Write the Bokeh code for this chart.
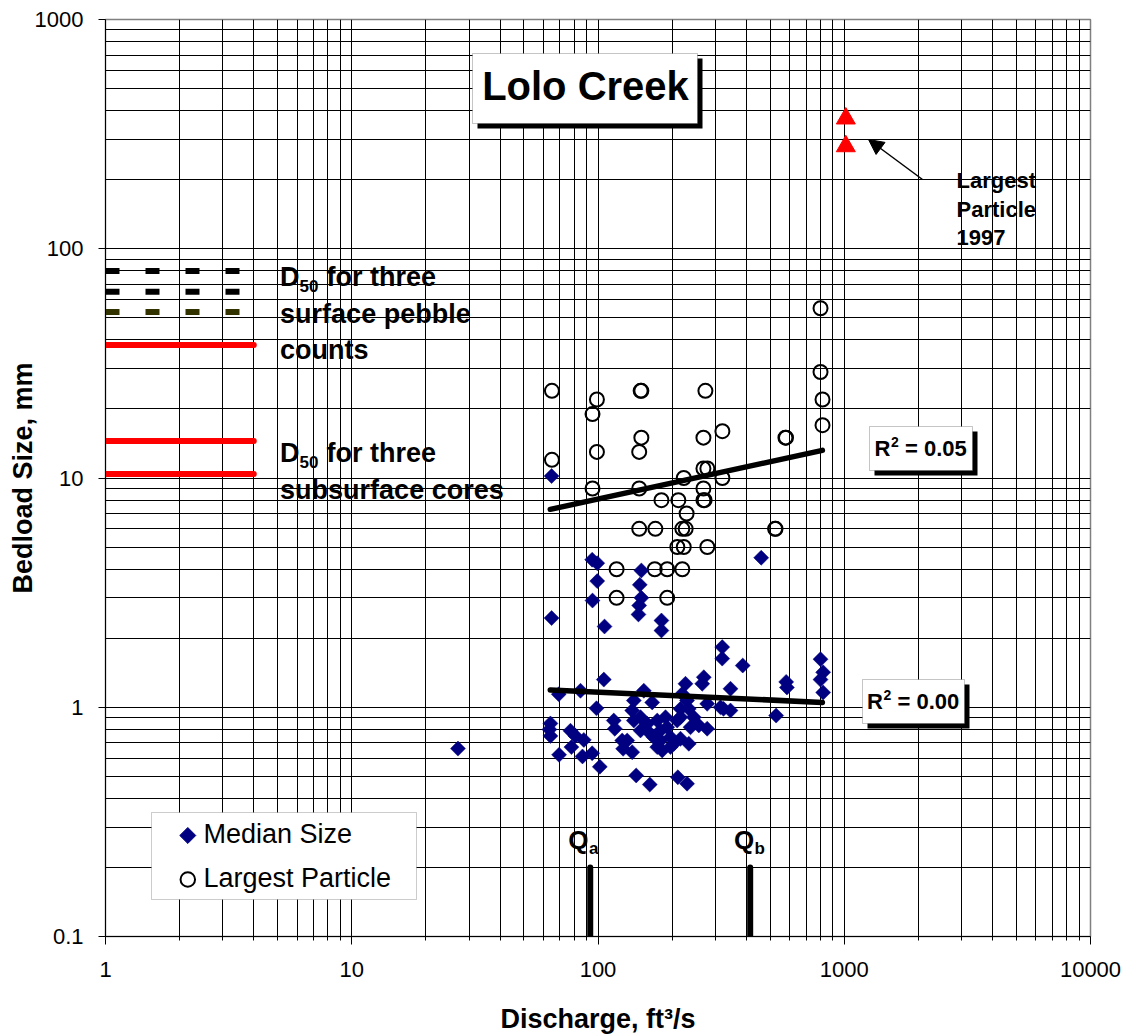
import math
from bokeh.plotting import figure
from bokeh.models import (FixedTicker, Label, BoxAnnotation, Arrow, NormalHead,
                          CustomJSTickFormatter)
from bokeh.embed import file_html
from bokeh.resources import INLINE

# ---------------- data ----------------
# Median bedload size (mm) vs discharge (ft3/s)
median_q = [64.8, 64.8, 94.7, 99.3, 99.3, 95.0, 106.3, 150, 147.8, 150, 147, 146, 181, 181,
            460, 319.5, 319.5, 387, 801, 821, 801, 821, 581, 585, 529, 105.6, 69.3, 84.9,
            98.6, 64.1, 63.5, 64.1, 69.5, 77.3, 81, 78, 87.6, 86.5, 94.7, 101.7, 27,
            115.9, 117, 125.4, 126.5, 137.7, 139.8, 137.7, 153.5, 166, 139.8, 148.8, 158.4,
            174, 168.5, 179.4, 191, 197, 182.3, 203.2, 216.3, 216.3, 226.6, 230, 209.7,
            233.8, 244.9, 268.9, 265, 277.6, 256.7, 237.5, 216.3, 233.8, 277.6, 314.4,
            345.2, 345.2, 323.3, 142.9, 162.3, 211, 230, 163.4, 179.4, 174, 197, 188,
            148.8, 131.4, 219.8]
median_d = [10.2, 2.45, 4.40, 4.25, 3.55, 2.92, 2.25, 3.95, 3.42, 3.0, 2.78, 2.54, 2.39, 2.16,
            4.49, 1.83, 1.63, 1.52, 1.62, 1.42, 1.32, 1.16, 1.29, 1.22, 0.92, 1.32, 1.14, 1.18,
            0.99, 0.85, 0.80, 0.75, 0.62, 0.79, 0.75, 0.67, 0.72, 0.61, 0.63, 0.55, 0.66,
            0.875, 0.806, 0.716, 0.659, 0.637, 1.07, 0.968, 1.18, 1.05, 0.875, 0.792, 0.847,
            0.875, 0.74, 0.792, 0.818, 0.74, 0.648, 0.693, 0.905, 0.984, 1.266, 1.07, 0.875,
            0.984, 0.905, 1.352, 1.266, 1.035, 0.833, 0.818, 0.729, 0.693, 0.806, 1.0,
            0.968, 1.204, 0.984, 0.504, 0.46, 0.495, 0.464, 0.766, 0.716, 0.67, 0.67, 0.905,
            0.905, 0.716, 1.144]

# Largest particle (mm) vs discharge (ft3/s)
largest_q = [65, 65, 99, 95, 99, 95, 149, 150, 150, 147, 147, 147, 181, 171, 119, 119, 170,
             191, 191, 223, 212, 229, 220, 227, 210, 223, 220, 273, 268, 320, 268, 278, 320,
             268, 271, 268, 278, 577, 580, 526, 524, 801, 801, 816, 816]
largest_d = [24, 12, 22, 19, 13, 9, 24, 24, 15, 13, 9, 6, 8, 6, 4, 3, 4,
             4, 3, 10, 8, 7, 6, 6, 5, 5, 4, 24, 15, 16, 11, 11, 10,
             9, 8, 8, 5, 15, 15, 6, 6, 55, 29, 22, 17]

# Largest particle 1997
largest_1997_q = [1015, 1015]
largest_1997_d = [370, 280]

# Power-law trend lines (end points)
trend_q = [64, 815]
trend_largest_d = [7.3, 13.2]
trend_median_d = [1.19, 1.05]

# D50 reference lines
pebble_count_d50 = [80, 65, 53]
pebble_colors = ["black", "black", "#333300"]
core_d50 = [38, 14.5, 10.4]
d50_q_span = [1, 4]

# Qa / Qb discharge markers
q_marks = [93, 415]
q_bar_d = [0.1, 0.2]

x_ticks = [1, 10, 100, 1000, 10000]
y_ticks = [0.1, 1, 10, 100, 1000]
x_minor = [m * 10 ** e for e in range(0, 4) for m in range(2, 10)]
y_minor = [m * 10.0 ** e for e in range(-1, 3) for m in range(2, 10)]

# ---------------- layout ----------------
W, H = 1125, 1036
FL, FT, FW, FH = 105, 19, 985, 917   # frame inside canvas (px)
XMIN, XMAX, YMIN, YMAX = 1, 10000, 0.1, 1000
XDEC = math.log10(XMAX / XMIN)
YDEC = math.log10(YMAX / YMIN)


def dx(px):
    """canvas pixel x -> data x (for placing annotations)"""
    return 10 ** (math.log10(XMIN) + (px - FL) / FW * XDEC)


def dy(py):
    """canvas pixel y -> data y (for placing annotations)"""
    return 10 ** (math.log10(YMIN) + (FT + FH - py) / FH * YDEC)


FONT = "Liberation Sans"

p = figure(width=W, height=H, x_axis_type="log", y_axis_type="log",
           x_range=(XMIN, XMAX), y_range=(YMIN, YMAX), title=None,
           output_backend="svg", toolbar_location=None,
           min_border_left=FL, min_border_top=FT,
           min_border_right=W - FL - FW, min_border_bottom=H - FT - FH)
p.background_fill_color = "white"
p.border_fill_color = "white"
p.outline_line_color = "#808080"
p.outline_line_width = 1.5

xt = FixedTicker(ticks=x_ticks, minor_ticks=x_minor)
yt = FixedTicker(ticks=y_ticks, minor_ticks=y_minor)
p.xaxis.ticker = xt
p.yaxis.ticker = yt
p.xgrid.ticker = xt
p.ygrid.ticker = yt
p.xaxis.formatter = CustomJSTickFormatter(code="return tick.toString()")
p.yaxis.formatter = CustomJSTickFormatter(code="return tick.toString()")

for g in (p.xgrid[0], p.ygrid[0]):
    g.grid_line_color = "black"
    g.grid_line_width = 1
    g.minor_grid_line_color = "black"
    g.minor_grid_line_width = 1

for ax in (p.xaxis[0], p.yaxis[0]):
    ax.axis_line_color = "black"
    ax.axis_line_width = 1
    ax.major_tick_line_color = "black"
    ax.minor_tick_line_color = "black"
    ax.major_tick_in = 0
    ax.minor_tick_in = 0
    ax.major_label_text_font = FONT
    ax.major_label_text_font_size = "22px"
    ax.major_label_text_color = "black"
    ax.major_label_standoff = 15
    ax.axis_label_text_font = FONT
    ax.axis_label_text_font_style = "bold"
    ax.axis_label_text_font_size = "27px"
    ax.axis_label_text_color = "black"

p.xaxis.major_tick_out = 8
p.xaxis.minor_tick_out = 4
p.xaxis.major_label_standoff = 17
p.xaxis.axis_label = "Discharge, ft\u00b3/s"
p.xaxis.axis_label_standoff = 24
p.yaxis.major_tick_out = 7
p.yaxis.minor_tick_out = 0
p.yaxis.axis_label = "Bedload Size, mm"
try:
    p.yaxis[0].axis_label_standoff = -6
except Exception:
    p.yaxis[0].axis_label_standoff = 0

# ---------------- data glyphs ----------------
p.multi_line(xs=[d50_q_span] * len(pebble_count_d50), ys=[[v, v] for v in pebble_count_d50],
             line_color=pebble_colors, line_width=6, line_dash="14 26")
p.multi_line(xs=[d50_q_span] * len(core_d50), ys=[[v, v] for v in core_d50],
             line_color="red", line_width=6, line_cap="round")
p.multi_line(xs=[[q, q] for q in q_marks], ys=[q_bar_d] * len(q_marks),
             line_color="black", line_width=6, line_cap="round")

p.scatter(largest_q, largest_d, marker="circle", size=14, fill_color=None,
          line_color="black", line_width=2)
p.scatter(median_q, median_d, marker="square", angle=math.pi / 4, size=10.6,
          fill_color="#000080", line_color="#000080", line_width=0.5)
p.scatter(largest_1997_q, largest_1997_d, marker="triangle", size=19,
          fill_color="red", line_color="red")

p.line(trend_q, trend_largest_d, line_color="black", line_width=5.5, line_cap="round")
p.line(trend_q, trend_median_d, line_color="black", line_width=5.5, line_cap="round")


# ---------------- annotations ----------------
def shadow_box(l, t, r, b, off=5):
    p.add_layout(BoxAnnotation(left=dx(l + off), right=dx(r + off), top=dy(t + off),
                               bottom=dy(b + off), fill_color="black", fill_alpha=1,
                               line_color=None))
    p.add_layout(BoxAnnotation(left=dx(l), right=dx(r), top=dy(t), bottom=dy(b),
                               fill_color="white", fill_alpha=1, line_color="#404040",
                               line_width=1))


def text(px, base, s, size, bold=True, align="left"):
    # base = wanted baseline (canvas px); Label puts its anchor ~0.4 em above baseline
    p.add_layout(Label(x=dx(px), y=dy(base - 0.4 * size), text=s, text_font=FONT,
                       text_font_size=f"{size}px",
                       text_font_style="bold" if bold else "normal",
                       text_color="black", text_align=align,
                       text_baseline="alphabetic"))


# Title box
shadow_box(472, 53, 697, 123)
text(585, 101, "Lolo Creek", 40, align="center")

# R^2 boxes
shadow_box(869, 426, 972, 470)
text(874, 457, "R", 22)
text(890.5, 447, "2", 14)
text(904.5, 457, "= 0.05", 22)
shadow_box(862, 679, 964, 723)
text(866.5, 710, "R", 22)
text(883, 700, "2", 14)
text(897, 710, "= 0.00", 22)

# D50 labels
for base in (287, 463):
    text(279.6, base, "D", 27)
    text(299.1, base + 5, "50", 17)
    text(326, base, "for three", 27)
text(279.6, 324, "surface pebble", 27)
text(279.6, 360.5, "counts", 27)
text(279.6, 500.5, "subsurface cores", 27)

# Largest particle 1997 note
text(956, 189, "Largest", 22)
text(956, 217.5, "Particle", 22)
text(956, 246, "1997", 22)
p.add_layout(Arrow(end=NormalHead(size=15, fill_color="black", line_color="black", line_width=1),
                   x_start=dx(922), y_start=dy(179), x_end=dx(868), y_end=dy(139),
                   line_color="black", line_width=1.5))

# Qa / Qb labels
text(567.7, 850, "Q", 26)
text(588.5, 855, "a", 17)
text(733.5, 850, "Q", 26)
text(754, 855, "b", 17)

# Legend
p.add_layout(BoxAnnotation(left=dx(151), right=dx(416), top=dy(812), bottom=dy(899),
                           fill_color="white", fill_alpha=1, line_color="#555555",
                           line_width=1))
p.scatter([dx(187.3)], [dy(835)], marker="square", angle=math.pi / 4, size=11.3,
          fill_color="#000080", line_color="#000080", level="overlay")
p.scatter([dx(187.3)], [dy(879)], marker="circle", size=14.5, fill_color=None,
          line_color="black", line_width=2, level="overlay")
text(203, 844, "Median Size", 27, bold=False)
text(203, 888, "Largest Particle", 27, bold=False)

open("out.html", "w").write(file_html(p, INLINE))
